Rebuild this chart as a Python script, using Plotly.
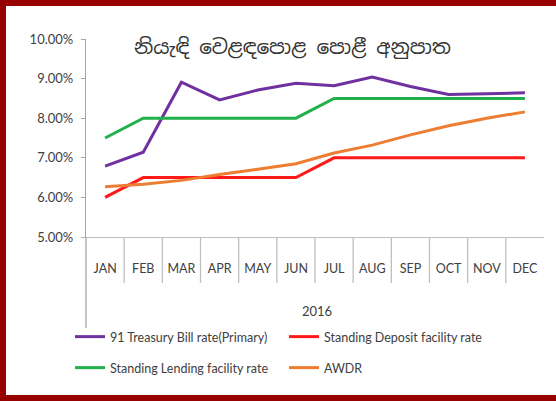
import plotly.graph_objects as go

months = ["JAN", "FEB", "MAR", "APR", "MAY", "JUN", "JUL", "AUG", "SEP", "OCT", "NOV", "DEC"]
tbill = [6.79, 7.14, 8.91, 8.46, 8.71, 8.88, 8.82, 9.04, 8.80, 8.60, 8.62, 8.64]
sdf = [6.00, 6.50, 6.50, 6.50, 6.50, 6.50, 7.00, 7.00, 7.00, 7.00, 7.00, 7.00]
slf = [7.50, 8.00, 8.00, 8.00, 8.00, 8.00, 8.50, 8.50, 8.50, 8.50, 8.50, 8.50]
awdr = [6.27, 6.33, 6.43, 6.58, 6.71, 6.85, 7.12, 7.32, 7.58, 7.81, 8.00, 8.16]
y_ticks = [5, 6, 7, 8, 9, 10]
y_tick_labels = ["5.00%", "6.00%", "7.00%", "8.00%", "9.00%", "10.00%"]
title_text = "නියැඳි වෙළඳපොළ පොළී අනුපාත"
year_label = "2016"

W, H = 556, 401
L, R, T, B = 86, 544, 39, 237


def px_x(p):
    return (p - L) / (R - L)


def px_y(p):
    return (B - p) / (B - T)


FONT = "Lato, 'Open Sans', sans-serif"
fig = go.Figure()
series = [
    ("91 Treasury Bill rate(Primary)", tbill, "#7030A0", "legend"),
    ("Standing Deposit facility rate", sdf, "#FF1A1A", "legend"),
    ("Standing Lending facility rate", slf, "#22B04C", "legend2"),
    ("AWDR", awdr, "#ED7D31", "legend2"),
]
for name, vals, col, lg in series:
    fig.add_trace(go.Scatter(x=months, y=vals, name=name, mode="lines",
                             line=dict(color=col, width=3), legend=lg))

shapes = []
# category separators
for i in range(len(months) - 1):
    shapes.append(dict(type="line", xref="x", yref="paper", x0=i + 0.5, x1=i + 0.5,
                       y0=0, y1=px_y(283), line=dict(color="#BFBFBF", width=1.3)))
# y-axis extension
shapes.append(dict(type="line", xref="paper", yref="paper", x0=0, x1=0,
                   y0=0, y1=px_y(328), line=dict(color="#A6A6A6", width=1.3)))
# border
bc = "#960000"
shapes.append(dict(type="rect", xref="paper", yref="paper", x0=px_x(0), x1=px_x(6),
                   y0=px_y(401), y1=px_y(0), fillcolor=bc, line=dict(width=0)))
shapes.append(dict(type="rect", xref="paper", yref="paper", x0=px_x(0), x1=px_x(556),
                   y0=px_y(6), y1=px_y(0), fillcolor=bc, line=dict(width=0)))
shapes.append(dict(type="rect", xref="paper", yref="paper", x0=px_x(0), x1=px_x(556),
                   y0=px_y(401), y1=px_y(395), fillcolor=bc, line=dict(width=0)))

fig.update_layout(
    width=W, height=H,
    margin=dict(l=L, r=W - R, t=T, b=H - B, autoexpand=False),
    paper_bgcolor="white", plot_bgcolor="white",
    font=dict(family=FONT, size=12, color="#404040"),
    shapes=shapes,
    xaxis=dict(type="category", range=[-0.5, 11.5], showgrid=False, showline=True,
               linecolor="#BFBFBF", linewidth=1.3, ticks="", ticklabelstandoff=20,
               tickfont=dict(size=12.5, color="#404040"), zeroline=False, fixedrange=True),
    yaxis=dict(range=[5, 10], tickvals=y_ticks, ticktext=y_tick_labels,
               showgrid=False, showline=True, linecolor="#A6A6A6", linewidth=1.3,
               ticks="outside", ticklen=4, tickcolor="#A6A6A6", ticklabelstandoff=5,
               tickfont=dict(size=13, color="#404040"), zeroline=False, fixedrange=True),
    annotations=[
        dict(text=title_text, xref="paper", yref="paper", x=px_x(292), y=px_y(47),
             xanchor="center", yanchor="middle", showarrow=False,
             font=dict(family="'Noto Sans Sinhala', 'Iskoola Pota', sans-serif", size=20, color="#333333")),
        dict(text=year_label, xref="paper", yref="paper", x=px_x(317), y=px_y(311),
             xanchor="center", yanchor="middle", showarrow=False,
             font=dict(size=13, color="#404040")),
    ],
    legend=dict(orientation="h", x=px_x(70), y=px_y(322), xanchor="left", yanchor="top",
                entrywidth=169, entrywidthmode="pixels", font=dict(size=12.5, color="#404040"),
                bgcolor="rgba(0,0,0,0)", itemwidth=30),
    legend2=dict(orientation="h", x=px_x(70), y=px_y(353), xanchor="left", yanchor="top",
                 entrywidth=169, entrywidthmode="pixels", font=dict(size=12.5, color="#404040"),
                 bgcolor="rgba(0,0,0,0)", itemwidth=30),
)

fig.write_html("out.html", config={"displayModeBar": False},
               post_script="document.body.style.margin='0';")
